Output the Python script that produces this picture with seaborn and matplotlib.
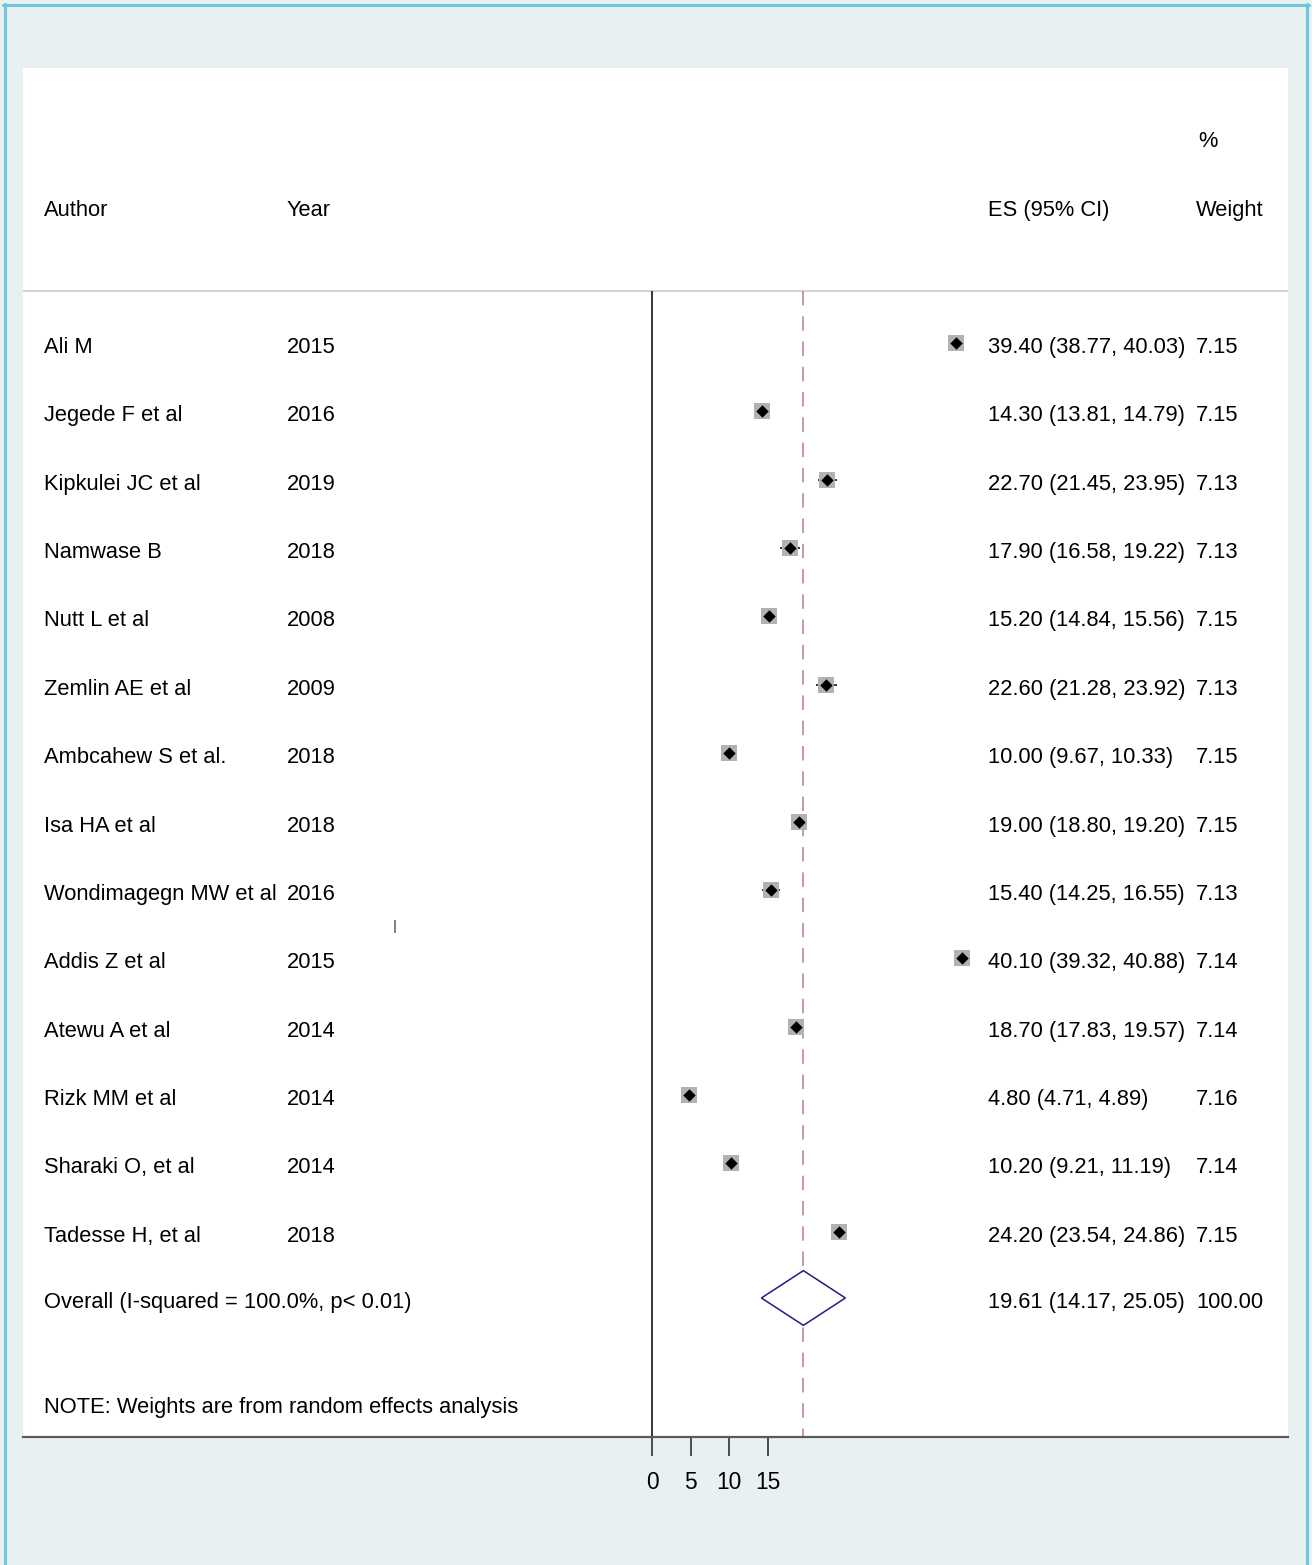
import matplotlib
matplotlib.use("Agg")
import matplotlib.pyplot as plt
import seaborn as sns
import pandas as pd
from matplotlib.lines import Line2D
from matplotlib.patches import Polygon

# study data
authors = ["Ali M", "Jegede F et al", "Kipkulei JC et al", "Namwase B", "Nutt L et al",
           "Zemlin AE et al", "Ambcahew S et al.", "Isa HA et al", "Wondimagegn MW et al",
           "Addis Z et al", "Atewu A et al", "Rizk MM et al", "Sharaki O, et al",
           "Tadesse H, et al"]
years = ["2015", "2016", "2019", "2018", "2008", "2009", "2018", "2018", "2016",
         "2015", "2014", "2014", "2014", "2018"]
es = [39.40, 14.30, 22.70, 17.90, 15.20, 22.60, 10.00, 19.00, 15.40, 40.10, 18.70, 4.80, 10.20, 24.20]
lo = [38.77, 13.81, 21.45, 16.58, 14.84, 21.28, 9.67, 18.80, 14.25, 39.32, 17.83, 4.71, 9.21, 23.54]
hi = [40.03, 14.79, 23.95, 19.22, 15.56, 23.92, 10.33, 19.20, 16.55, 40.88, 19.57, 4.89, 11.19, 24.86]
weights = [7.15, 7.15, 7.13, 7.13, 7.15, 7.13, 7.15, 7.15, 7.13, 7.14, 7.14, 7.16, 7.14, 7.15]

overall_label = "Overall (I-squared = 100.0%, p< 0.01)"
overall_es, overall_lo, overall_hi, overall_w = 19.61, 14.17, 25.05, 100.00
note = "NOTE: Weights are from random effects analysis"
xticks = [0, 5, 10, 15]

df = pd.DataFrame({"author": authors, "year": years, "es": es, "lo": lo, "hi": hi, "w": weights})
df["row"] = range(len(df))

sns.set_theme(style="white")
plt.rcParams["font.family"] = ["Liberation Sans", "DejaVu Sans"]

W, H = 1312, 1565
BG = "#E8F0F2"
fig = plt.figure(figsize=(W / 100, H / 100), dpi=100, facecolor=BG)

# outer frame (top, left, right)
frame_c = "#6CC6DC"
fig.add_artist(Line2D([3 / W, 1309 / W], [1 - 5 / H, 1 - 5 / H], color=frame_c, lw=2.2))
fig.add_artist(Line2D([4.5 / W, 4.5 / W], [0, 1 - 4 / H], color=frame_c, lw=2.2))
fig.add_artist(Line2D([1307 / W, 1307 / W], [0, 1 - 4 / H], color=frame_c, lw=2.2))

# plot region in pixels
L, R, T, B = 23, 1288, 68, 1437
ax = fig.add_axes([L / W, 1 - B / H, (R - L) / W, (B - T) / H])
ax.set_facecolor("white")

x0_px, kx = 652, 7.72          # pixel of zero, pixels per unit
row0_px, ky = 343, 68.36       # pixel of first row, pixels per row
ax.set_xlim((L - x0_px) / kx, (R - x0_px) / kx)
ax.set_ylim((B - row0_px) / ky, (T - row0_px) / ky)


def rowy(px):
    return (px - row0_px) / ky


def axx(px):
    return (px - L) / (R - L)


for side in ["top", "left", "right"]:
    ax.spines[side].set_visible(False)
ax.spines["bottom"].set_color("#5A5A5A")
ax.spines["bottom"].set_linewidth(1.6)

ytop = rowy(291)
ybot = rowy(B)
ax.axhline(ytop, color="#D4D4D4", lw=1.5)
ax.vlines(0, ytop, ybot, color="black", lw=1.1)
ax.vlines(overall_es, ytop, ybot, color="#C4909A", lw=1.3, linestyles=(0, (8, 6)))

# confidence intervals and study markers
ax.hlines(df["row"], df["lo"], df["hi"], color="black", lw=1.1)
sns.scatterplot(data=df, x="es", y="row", marker="s", s=118, color="#B2B2B2",
                linewidth=0, ax=ax, legend=False, zorder=3)
sns.scatterplot(data=df, x="es", y="row", marker="D", s=40, color="black",
                linewidth=0, ax=ax, legend=False, zorder=4)

# pooled diamond
orow = len(df) - 0.03
ax.add_patch(Polygon([[overall_lo, orow], [overall_es, orow - 0.4],
                      [overall_hi, orow], [overall_es, orow + 0.4]],
                     closed=True, facecolor="white", edgecolor="#1E1E86", lw=1.1, zorder=3))

# stray mark
ax.vlines((395 - x0_px) / kx, rowy(920), rowy(933), color="#606060", lw=1.1)

fs = 15.75
tr = ax.get_yaxis_transform()
txt = dict(transform=tr, fontsize=fs, color="black", va="center_baseline")
ax.text(axx(1198), rowy(139), "%", **txt)
ax.text(axx(44), rowy(208), "Author", **txt)
ax.text(axx(287), rowy(208), "Year", **txt)
ax.text(axx(988), rowy(208), "ES (95% CI)", **txt)
ax.text(axx(1196), rowy(208), "Weight", **txt)

for i, r in df.iterrows():
    y = r["row"] + 0.03
    ax.text(axx(44), y, r["author"], **txt)
    ax.text(axx(287), y, r["year"], **txt)
    ax.text(axx(988), y, f"{r['es']:.2f} ({r['lo']:.2f}, {r['hi']:.2f})", **txt)
    ax.text(axx(1196), y, f"{r['w']:.2f}", **txt)

y = len(df)
ax.text(axx(44), y, overall_label, **txt)
ax.text(axx(988), y, f"{overall_es:.2f} ({overall_lo:.2f}, {overall_hi:.2f})", **txt)
ax.text(axx(1196), y, f"{overall_w:.2f}", **txt)
ax.text(axx(44), rowy(1405), note, **txt)

ax.set_xticks(xticks)
ax.set_xticklabels([str(t) for t in xticks])
ax.set_yticks([])
ax.tick_params(axis="x", direction="out", length=13.7, width=1.1, color="#202020",
               pad=11, labelsize=16.4, labelcolor="black", bottom=True)
ax.set_xlabel("")
ax.set_ylabel("")

fig.savefig("out.png", dpi=100, facecolor=BG)
